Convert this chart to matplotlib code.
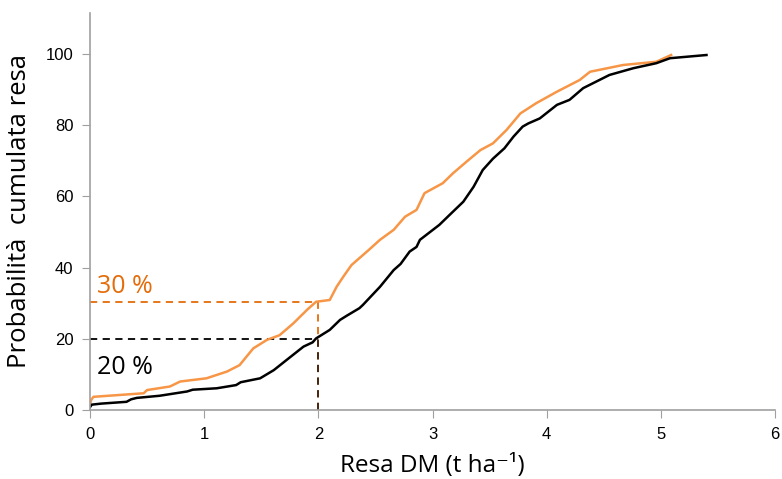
import matplotlib.pyplot as plt
import numpy as np

# curva nera (resa DM, probabilità cumulata)
x_nero = [0.0, 0.015, 0.1, 0.32, 0.36, 0.41, 0.61, 0.85, 0.90, 1.11, 1.28, 1.32, 1.49, 1.61,
          1.72, 1.87, 1.95, 1.98, 2.10, 2.19, 2.25, 2.36, 2.39, 2.54, 2.66, 2.72, 2.80,
          2.86, 2.89, 3.06, 3.15, 3.27, 3.36, 3.44, 3.53, 3.63, 3.71, 3.79, 3.84, 3.94,
          4.09, 4.20, 4.32, 4.55, 4.76, 4.96, 5.08, 5.40]
y_nero = [0.8, 1.5, 1.8, 2.3, 3.0, 3.4, 4.0, 5.2, 5.7, 6.1, 7.0, 7.8, 8.9, 11.2,
          14.0, 17.8, 19.0, 20.1, 22.5, 25.3, 26.5, 28.6, 29.5, 34.6, 39.3, 41.0, 44.5,
          45.8, 47.8, 52.0, 54.8, 58.5, 62.7, 67.4, 70.6, 73.5, 76.8, 79.6, 80.5, 81.9,
          85.7, 87.1, 90.4, 94.1, 96.0, 97.4, 98.8, 99.7]

# curva arancione
x_arancio = [0.0, 0.01, 0.03, 0.47, 0.50, 0.70, 0.79, 1.02, 1.20, 1.31, 1.43, 1.55, 1.66,
             1.78, 1.90, 1.98, 2.10, 2.16, 2.22, 2.29, 2.44, 2.54, 2.66, 2.76, 2.86, 2.93,
             3.09, 3.18, 3.30, 3.42, 3.53, 3.65, 3.77, 3.91, 4.09, 4.29, 4.38, 4.67, 4.96,
             5.09]
y_arancio = [1.5, 2.8, 3.7, 4.7, 5.6, 6.6, 8.0, 8.9, 10.8, 12.6, 17.3, 19.7, 21.0,
             24.3, 28.1, 30.4, 30.9, 34.6, 37.5, 40.7, 44.9, 47.8, 50.6, 54.3, 56.2, 60.9,
             63.7, 66.5, 69.8, 73.0, 74.9, 78.7, 83.3, 86.2, 89.4, 92.7, 95.0, 96.9, 97.8,
             99.7]

soglia_x = 2.0
soglia_nero = 20.0
soglia_arancio = 30.4

x_ticks = [0, 1, 2, 3, 4, 5, 6]
y_ticks = [0, 20, 40, 60, 80, 100]

arancio = '#F79646'
arancio_scuro = '#E46C0A'

plt.rcParams['font.family'] = ['Open Sans', 'DejaVu Sans']
font_tick = ['Liberation Sans Narrow', 'Liberation Sans']

fig = plt.figure(figsize=(7.82, 4.79), dpi=100)
ax = fig.add_axes([90 / 782, 69 / 479, 685 / 782, 397 / 479])

# linee tratteggiate di riferimento
ax.plot([0, soglia_x], [soglia_arancio, soglia_arancio], ls=(0, (4, 3)), color=arancio_scuro, lw=1.3)
ax.plot([soglia_x, soglia_x], [0, soglia_arancio], ls=(0, (4, 3)), color=arancio_scuro, lw=1.3)
ax.plot([0, soglia_x], [soglia_nero, soglia_nero], ls=(0, (4, 3)), color='black', lw=1.3)
ax.plot([soglia_x, soglia_x], [0, soglia_nero], ls=(0, (4, 3)), color='#3a2010', lw=1.3)

ax.plot(x_arancio, y_arancio, color=arancio, lw=1.8)
ax.plot(x_nero, y_nero, color='black', lw=1.8)

ax.text(0.06, 33.0, '30 %', color=arancio_scuro, fontsize=18)
ax.text(0.06, 10.0, '20 %', color='black', fontsize=18)

ax.set_xlim(0, 6)
ax.set_ylim(0, 111.5)
ax.set_xticks(x_ticks)
ax.set_yticks(y_ticks)
ax.tick_params(labelsize=12, length=6, pad=6, color='#a0a0a0')
for lab in ax.get_xticklabels() + ax.get_yticklabels():
    lab.set_family(font_tick)

for s in ['top', 'right']:
    ax.spines[s].set_visible(False)
for s in ['left', 'bottom']:
    ax.spines[s].set_color('#a0a0a0')
    ax.spines[s].set_linewidth(1.2)

ax.set_xlabel('Resa DM (t ha\u207b\u00b9)', fontsize=17.5, labelpad=9)
ax.set_ylabel('Probabilità  cumulata resa', fontsize=18.5, labelpad=10)

fig.savefig('out.png', dpi=100)
